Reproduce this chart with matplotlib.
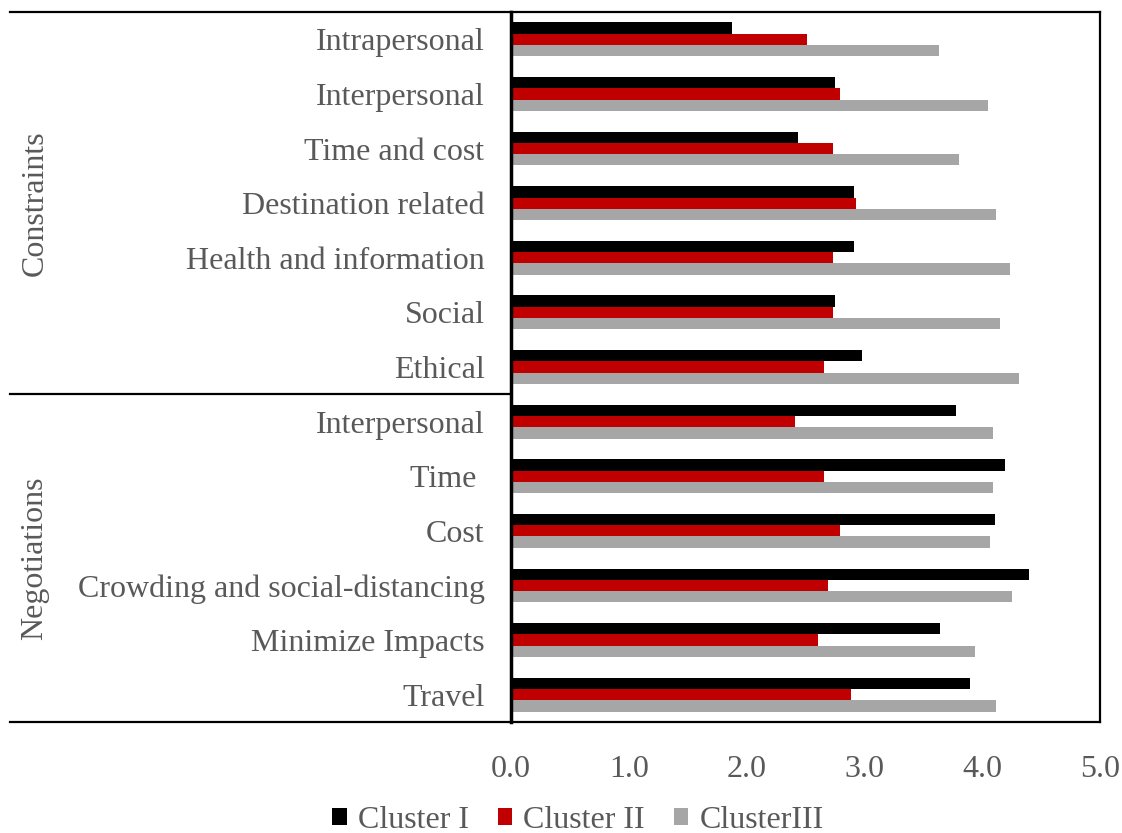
import numpy as np
import matplotlib.pyplot as plt

plt.rcParams['font.family'] = ['Liberation Serif', 'DejaVu Serif']

categories = ['Intrapersonal', 'Interpersonal', 'Time and cost', 'Destination related',
              'Health and information', 'Social', 'Ethical',
              'Interpersonal', 'Time ', 'Cost', 'Crowding and social-distancing',
              'Minimize Impacts', 'Travel']
groups = ['Constraints', 'Negotiations']
group_sizes = [7, 6]

cluster1 = [1.88, 2.75, 2.44, 2.91, 2.91, 2.75, 2.98, 3.78, 4.19, 4.11, 4.40, 3.64, 3.90]
cluster2 = [2.51, 2.79, 2.73, 2.93, 2.73, 2.73, 2.66, 2.41, 2.66, 2.79, 2.69, 2.61, 2.89]
cluster3 = [3.63, 4.05, 3.80, 4.12, 4.24, 4.15, 4.31, 4.09, 4.09, 4.07, 4.25, 3.94, 4.12]
series_names = ['Cluster I', 'Cluster II', 'ClusterIII']
colors = ['#000000', '#C00000', '#A6A6A6']
xticks = [0, 1, 2, 3, 4, 5]

txt = '#595959'
fs = 23

fig = plt.figure(figsize=(11.22, 8.33), dpi=100)
ax = fig.add_axes([511 / 1122, 1 - 722 / 833, 589 / 1122, 710 / 833])

y = np.arange(len(categories))
h = 0.207
for k, (vals, c, name) in enumerate(zip([cluster1, cluster2, cluster3], colors, series_names)):
    ax.barh(y + (k - 1) * h, vals, height=h, color=c, label=name)

ax.set_ylim(len(categories) - 0.5, -0.5)
ax.set_xlim(0, 5)
ax.set_xticks(xticks)
ax.set_xticklabels([f'{v:.1f}' for v in xticks])
ax.set_yticks(y)
ax.set_yticklabels(categories)
ax.tick_params(axis='x', length=0, pad=24, labelsize=fs, labelcolor=txt)
ax.tick_params(axis='y', length=0, pad=19, labelsize=fs, labelcolor=txt)

for side in ['top', 'right', 'bottom']:
    ax.spines[side].set_linewidth(1.6)
ax.spines['left'].set_linewidth(2.5)

# outer frame lines that run under the category labels
x0 = (10 - 511) / 589
line_kw = dict(color='black', lw=1.6, transform=ax.transAxes, clip_on=False)
ax.plot([x0, 0], [1, 1], **line_kw)
ax.plot([x0, 0], [0, 0], **line_kw)
sep = group_sizes[1] / len(categories)
ax.plot([x0, 0], [sep, sep], **line_kw)

# group labels
gx = 35 / 1122
ax.text((35 - 511) / 589, 1 - (group_sizes[0] / 2) / len(categories), groups[0],
        rotation=90, ha='center', va='center', fontsize=fs, color=txt, transform=ax.transAxes)
ax.text((35 - 511) / 589, (group_sizes[1] / 2) / len(categories), groups[1],
        rotation=90, ha='center', va='center', fontsize=fs, color=txt, transform=ax.transAxes)

leg = fig.legend(loc='center', bbox_to_anchor=(578 / 1122, 1 - 820 / 833), ncol=3,
                 frameon=False, fontsize=fs, handlelength=0.45, handleheight=0.45,
                 handletextpad=0.35, columnspacing=0.9, labelcolor=txt)

fig.savefig('out.png', dpi=100)
